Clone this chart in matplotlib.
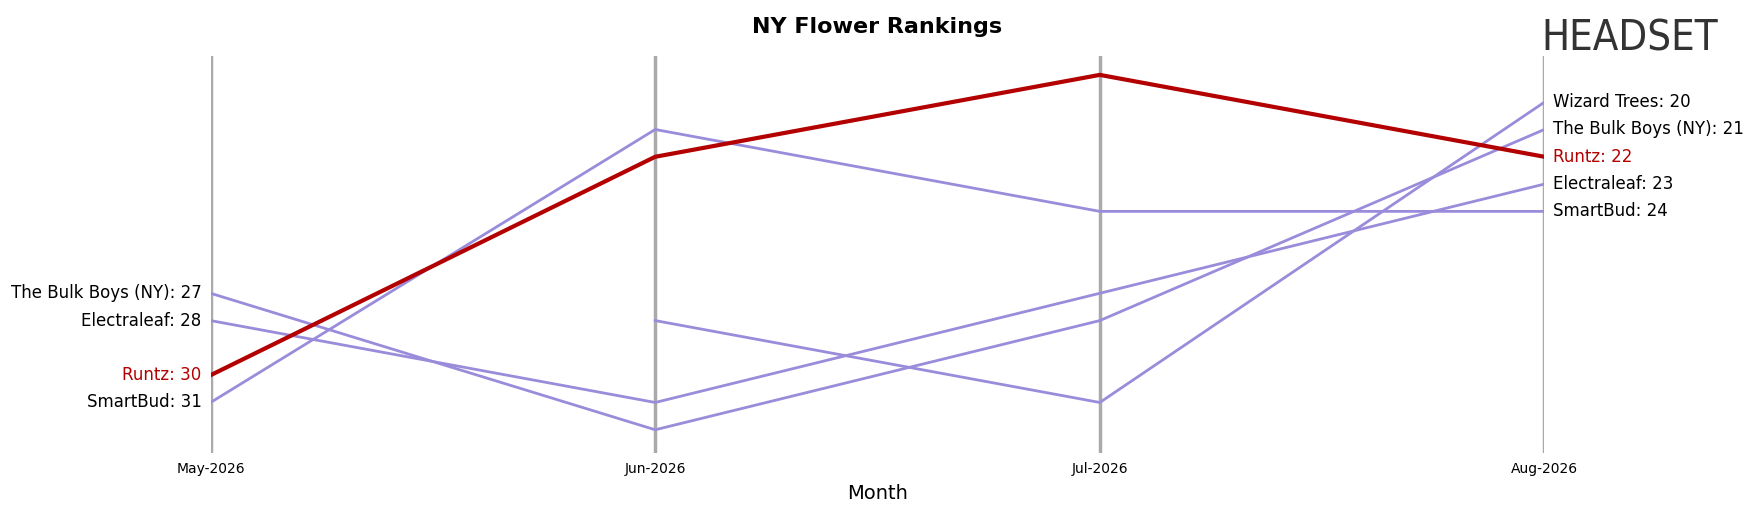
import matplotlib
matplotlib.use("Agg")
import matplotlib.pyplot as plt
import numpy as np

months = ["May-2026", "Jun-2026", "Jul-2026", "Aug-2026"]
brands = ["Wizard Trees", "The Bulk Boys (NY)", "Runtz", "Electraleaf", "SmartBud"]
ranks = {
    "Runtz": [30, 22, 19, 22],
    "SmartBud": [31, 21, 24, 24],
    "The Bulk Boys (NY)": [27, 32, 28, 21],
    "Electraleaf": [28, 31, 27, 23],
    "Wizard Trees": [None, 28, 31, 20],
}
highlight = "Runtz"
hl_color = "#b30000"
other_color = "#9b8cdb"

fig = plt.figure(figsize=(17.55, 5.07), dpi=100)
ax = fig.add_axes([0.12, 0.106, 0.76, 0.784])
x = np.arange(len(months))
for i in x:
    ax.axvline(i, color="#aaaaaa", lw=2.5, zorder=0)

for b in brands:
    r = ranks[b]
    xs = [i for i, v in enumerate(r) if v is not None]
    ys = [v for v in r if v is not None]
    if b == highlight:
        ax.plot(xs, ys, color=hl_color, lw=3, zorder=3)
    else:
        ax.plot(xs, ys, color=other_color, lw=2, zorder=2)
    c = hl_color if b == highlight else "black"
    if r[0] is not None:
        ax.text(-0.02, r[0], f"{b}: {r[0]}", ha="right", va="center", fontsize=12, color=c)
    ax.text(3.02, r[-1], f"{b}: {r[-1]}", ha="left", va="center", fontsize=12, color=c)

ax.set_ylim(32.86, 18.3)
ax.set_xlim(0, 3)
ax.set_yticks([])
ax.set_xticks(x)
ax.set_xticklabels(months)
ax.tick_params(axis="x", length=0, labelsize=10, pad=6)
for s in ax.spines.values():
    s.set_visible(False)
ax.set_xlabel("Month", fontsize=14, labelpad=6)
fig.text(0.5, 0.935, "NY Flower Rankings", ha="center", fontsize=16, fontweight="bold")
fig.text(0.878, 0.925, "HEADSET", fontsize=30, color="#333333", ha="left", va="center", fontstretch="condensed")
fig.savefig("out.png", dpi=100)
